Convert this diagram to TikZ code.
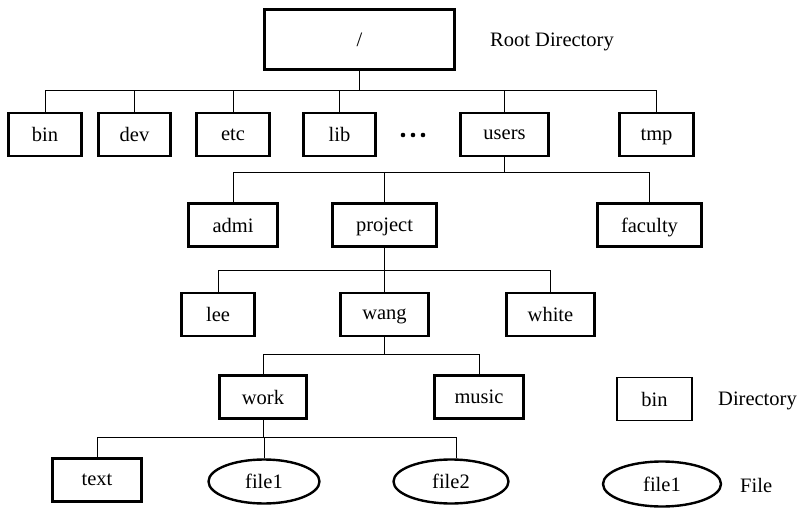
\documentclass[tikz,border=0pt]{standalone}
\usepackage{fontspec}
\setmainfont{Liberation Serif}
\usetikzlibrary{shapes.geometric}
\begin{document}
\begin{tikzpicture}[x=1pt,y=-1pt,
  every node/.style={font=\fontsize{20.5}{24}\selectfont, inner sep=0pt},
  dirbox/.style={draw, line width=2.6pt, minimum height=43pt, text depth=0pt},
  filebox/.style={draw, ellipse, line width=2.4pt, minimum height=44pt},
  conn/.style={line width=1pt}]
\useasboundingbox (0,0) rectangle (801,508);
% level 0
\node[dirbox, minimum width=190pt, minimum height=60pt] (root) at (359.5,39.5) {/};
\node[anchor=west] (rootlbl) at (490,42) {Root Directory};
% level 1
\node[dirbox, minimum width=73pt] (bin) at (45,134.5) {bin};
\node[dirbox, minimum width=72pt] (dev) at (134.5,134.5) {dev};
\node[dirbox, minimum width=73pt] (etc) at (233,134.5) {etc};
\node[dirbox, minimum width=72pt, line width=2.2pt] (lib) at (339.5,134.5) {lib};
\node[minimum width=24pt, minimum height=8pt] (dots) at (413,135) {};
\fill (403,135) circle (2.3pt) (413,135) circle (2.3pt) (423,135) circle (2.3pt);
\node[dirbox, minimum width=88pt] (users) at (504.5,134.5) {users};
\node[dirbox, minimum width=74pt] (tmp) at (656.5,134.5) {tmp};
% level 2
\node[dirbox, minimum width=89pt] (admi) at (233,225) {admi};
\node[dirbox, minimum width=104pt] (project) at (384.5,225) {project};
\node[dirbox, minimum width=104pt] (faculty) at (649.5,225) {faculty};
% level 3
\node[dirbox, minimum width=73pt, line width=2.2pt] (lee) at (218,314.5) {lee};
\node[dirbox, minimum width=88pt] (wang) at (384.5,314.5) {wang};
\node[dirbox, minimum width=88pt, line width=2.2pt] (white) at (550.5,314.5) {white};
% level 4
\node[dirbox, minimum width=87pt] (work) at (263,397) {work};
\node[dirbox, minimum width=89pt] (music) at (479,397) {music};
% level 5
\node[dirbox, minimum width=89pt] (text) at (97,480) {text};
\node[filebox, minimum width=111pt] (file1) at (264,481.5) {file1};
\node[filebox, minimum width=115pt] (file2) at (451,481.5) {file2};
% legend
\node[dirbox, minimum width=75pt, line width=1.8pt] (legdir) at (654.5,399) {bin};
\node[anchor=west] (legdirlbl) at (718,401) {Directory};
\node[filebox, minimum width=118pt, minimum height=45pt] (legfile) at (662,484) {file1};
\node[anchor=west] (legfilelbl) at (740,485) {File};
% bus coordinates
\coordinate (b1) at (0,91);
\coordinate (b2) at (0,173);
\coordinate (b3) at (0,270);
\coordinate (b4) at (0,354);
\coordinate (b5) at (0,437);
% connectors
\draw[conn] (root.south) -- (root.south |- b1);
\draw[conn] (bin.north) |- (tmp.north |- b1) -- (tmp.north);
\foreach \n in {dev,etc,lib,users} \draw[conn] (\n.north) -- (\n.north |- b1);
\draw[conn] (users.south) -- (users.south |- b2);
\draw[conn] (admi.north) |- (faculty.north |- b2) -- (faculty.north);
\draw[conn] (project.north) -- (project.north |- b2);
\draw[conn] (project.south) -- (project.south |- b3);
\draw[conn] (lee.north) |- (white.north |- b3) -- (white.north);
\draw[conn] (wang.north) -- (wang.north |- b3);
\draw[conn] (wang.south) -- (wang.south |- b4);
\draw[conn] (work.north) |- (music.north |- b4) -- (music.north);
\draw[conn] (work.south) -- (work.south |- b5);
\draw[conn] (text.north) |- ([xshift=5pt]file2.north |- b5) -- ([xshift=5pt]file2.north);
\draw[conn] (file1.north) -- (file1.north |- b5);
\end{tikzpicture}
\end{document}
